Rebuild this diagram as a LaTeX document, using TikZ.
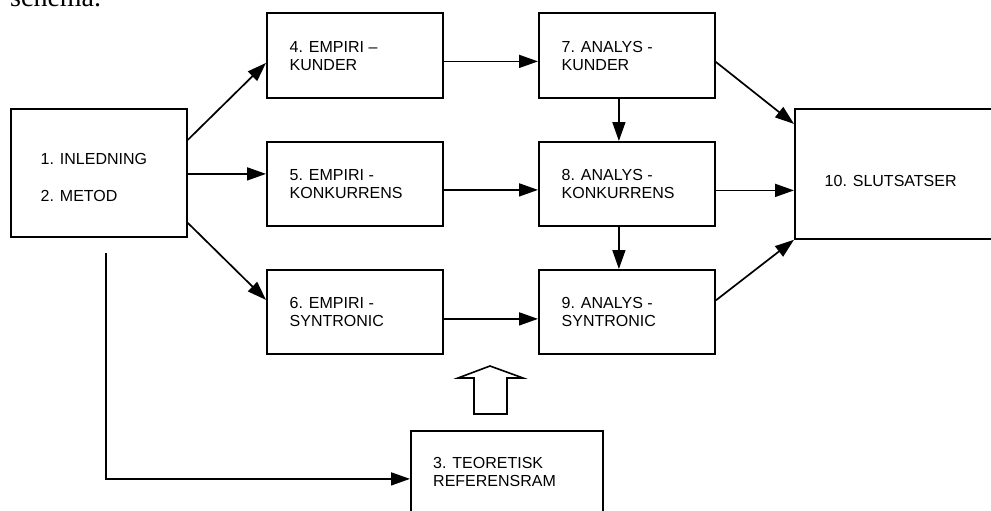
\documentclass[tikz,border=0pt]{standalone}
\usepackage{fontspec}
\setmainfont{Liberation Serif}
\setsansfont{Liberation Sans}
\usetikzlibrary{arrows.meta,calc}
\begin{document}
\begin{tikzpicture}[x=1pt,y=-1pt,
  box/.style={draw, line width=1.8pt, minimum width=176pt, minimum height=84pt,
    anchor=north west, inner sep=0pt},
  lbl/.style={anchor=west, inner sep=0pt, align=left,
    font=\sffamily\fontsize{16}{18}\selectfont},
  link/.style={line width=1.7pt, -{Triangle[length=19pt,width=13pt]}},
  blockarrow/.style={line width=1.6pt, fill=white, line join=miter},
]
\useasboundingbox (0,0) rectangle (991,511);

% running text above the chart
\node[anchor=base west, inner sep=0pt, font=\rmfamily\fontsize{28}{30}\selectfont] (hd) at (10,6.5) {schema.};

% chapter boxes
\node[box, minimum height=128pt] (b1) at (10,108) {};
\node[box, minimum height=85pt] (b4) at (266,12) {};
\node[box, minimum height=85pt] (b7) at (538,12) {};
\node[box] (b5) at (266,141) {};
\node[box] (b8) at (538,141) {};
\node[box] (b6) at (266,269) {};
\node[box] (b9) at (538,269) {};
\node[box, minimum width=230pt, minimum height=130pt] (b10) at (794,108) {};
\node[box, minimum width=192pt, minimum height=96pt] (b3) at (410,430) {};

% box labels
\node[lbl] (t1a) at (40.5,158.7) {1. INLEDNING};
\node[lbl] (t1b) at (40.5,195.8) {2. METOD};
\node[lbl] (t4) at ($(b4.west)+(23.5,1)$) {4. EMPIRI –\\KUNDER};
\node[lbl] (t7) at ($(b7.west)+(23.5,0.5)$) {7. ANALYS -\\KUNDER};
\node[lbl] (t5) at ($(b5.west)+(23.5,0)$) {5. EMPIRI -\\KONKURRENS};
\node[lbl] (t8) at ($(b8.west)+(23.5,0.5)$) {8. ANALYS -\\KONKURRENS};
\node[lbl] (t6) at ($(b6.west)+(23.5,0.5)$) {6. EMPIRI -\\SYNTRONIC};
\node[lbl] (t9) at ($(b9.west)+(23.5,0)$) {9. ANALYS -\\SYNTRONIC};
\node[lbl] (t10) at (824.5,180.7) {10. SLUTSATSER};
\node[lbl] (t3) at (433,472) {3. TEORETISK\\REFERENSRAM};

% connectors
\coordinate (a1) at ($(b1.east)+(0,1)$);
\coordinate (a4) at ($(b4.east)+(0,6)$);
\coordinate (a5) at ($(b5.east)+(0,6)$);
\coordinate (a6) at ($(b6.east)+(0,7)$);
\coordinate (a7) at ($(b7.south)+(-8,0)$);
\coordinate (a8) at ($(b8.south)+(-8,0)$);
\coordinate (a8r) at ($(b8.east)+(0,6.5)$);
\coordinate (c1) at (106,253);

\draw[link] ($(b1.east)+(0,-33)$) -- ($(b4.west)+(0,7.5)$);
\draw[link] (a1) -- (a1 -| b5.west);
\draw[link] ($(b1.east)+(0,50)$) -- ($(b6.west)+(0,-12)$);
\draw[link] (a4) -- (a4 -| b7.west);
\draw[link] (a5) -- (a5 -| b8.west);
\draw[link] (a6) -- (a6 -| b9.west);
\draw[link] (a7) -- (a7 |- b8.north);
\draw[link] (a8) -- (a8 |- b9.north);
\draw[link] ($(b7.east)+(0,6.5)$) -- ($(b10.west)+(0,-50)$);
\draw[link] (a8r) -- (a8r -| b10.west);
\draw[link] ($(b9.east)+(0,-11.5)$) -- (b10.south west);
\draw[link] (c1) |- (b3.west);

% hollow block arrow from the theory box
\draw[blockarrow] (474,414) -- (474,378) -- (458,378) -- (490,366)
  -- (523,378) -- (507,378) -- (507,414) -- cycle;
\end{tikzpicture}
\end{document}
